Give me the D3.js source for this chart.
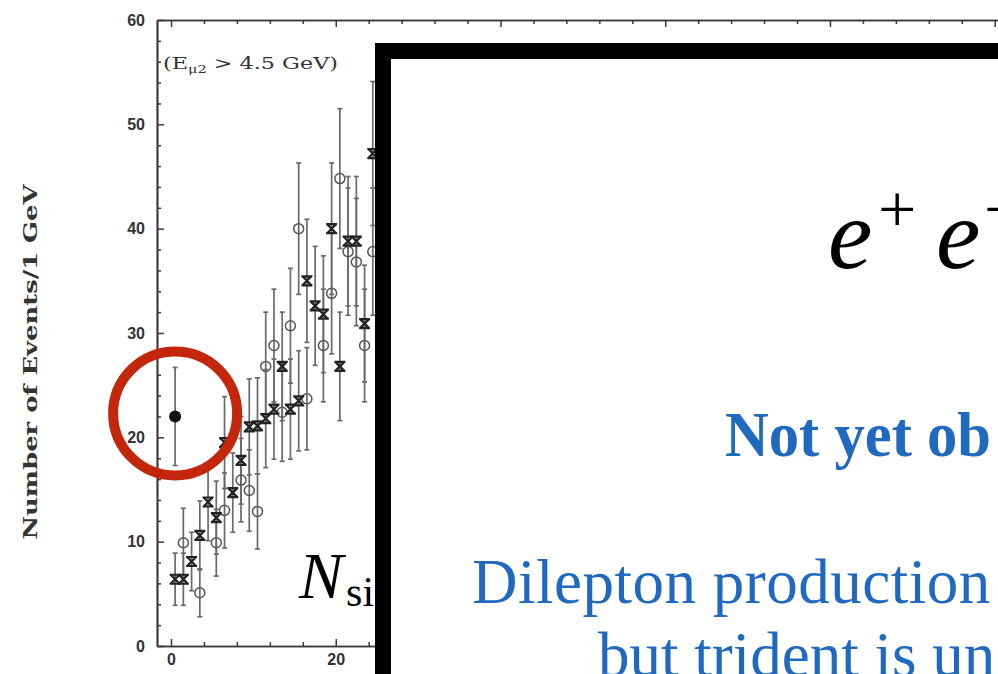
<!DOCTYPE html>
<html>
<head>
<meta charset="UTF-8">
<title></title>
<script src="https://d3js.org/d3.v7.min.js"></script>
<style>
  body { margin: 0; background: #fff; overflow: hidden; }
</style>
</head>
<body>
<div id="chart"></div>
<script>
// data (bins of 1 GeV)
var crossX = [0.5,1.5,2.5,3.5,4.5,5.5,6.5,7.5,8.5,9.5,10.5,11.5,12.5,13.5,14.5,15.5,16.5,17.5,18.5,19.5,20.5,21.5,22.5,23.5,24.5];
var crossY = [6.4,6.4,8.1,10.6,13.8,12.3,19.5,14.7,17.8,21.0,21.1,21.8,22.7,26.8,22.7,23.5,35.0,32.6,31.8,40.0,26.8,38.8,38.8,30.9,47.2];
var crossErr = [2.5,2.5,2.8,3.3,3.7,3.5,4.4,3.8,4.2,4.6,4.6,4.7,4.8,5.2,4.8,4.8,5.9,5.7,5.6,6.3,5.2,6.2,6.2,5.6,6.9];

var circX = [1.5,3.5,5.5,6.5,8.5,9.5,10.5,11.5,12.5,13.5,14.5,15.5,16.5,18.5,19.5,20.5,21.5,22.5,23.5,24.5];
var circY = [9.9,5.1,9.9,13.0,15.9,14.9,12.9,26.8,28.8,22.4,30.7,40.0,23.7,28.8,33.8,44.8,37.8,36.8,28.8,37.8];
var circErr = [3.3,2.3,3.2,3.6,4.0,3.9,3.6,5.2,5.4,4.7,5.5,6.3,4.9,5.4,5.8,6.7,6.1,6.1,5.4,6.1];

var dotX = [0.5];
var dotY = [22];
var dotErr = [4.7];

var yTicks = [0,10,20,30,40,50,60];
var yMinor = [2,4,6,8,12,14,16,18,22,24,26,28,32,34,36,38,42,44,46,48,52,54,56,58];
var xLabels = [0,20];
var xTicks = [0,20,40,60,80,100];
var xMinor = [4,8,12,16,24,28,32,36,44,48,52,56,64,68,72,76,84,88,92,96];

var width = 998, height = 674;

var svg = d3.select("#chart").append("svg")
  .attr("width", width)
  .attr("height", height)
  .style("font-family", "'Liberation Sans', Arial, sans-serif");

var x = d3.scaleLinear().domain([-1.7, 100.4]).range([157, 998]);
var y = d3.scaleLinear().domain([0, 60]).range([646, 20]);

var ink = "#3a3a3a";

// axes (ticks point inward like the original)
function styleAxis(g) {
  g.selectAll("path.domain").attr("stroke", ink).attr("stroke-width", 1.7);
  g.selectAll(".tick line").attr("stroke", ink).attr("stroke-width", 1.5);
  g.selectAll(".tick text").attr("fill", "#333").attr("font-size", 16).attr("font-weight", "bold");
}

svg.append("g")
  .attr("transform", "translate(157,0)")
  .call(d3.axisLeft(y).tickValues(yTicks).tickSizeInner(-7).tickSizeOuter(0).tickPadding(12))
  .call(styleAxis);
svg.append("g")
  .attr("transform", "translate(157,0)")
  .call(d3.axisLeft(y).tickValues(yMinor).tickSizeInner(-4).tickSizeOuter(0).tickFormat(""))
  .call(styleAxis);

svg.append("g")
  .attr("transform", "translate(0,646)")
  .call(d3.axisBottom(x).tickValues(xTicks).tickSizeInner(-7).tickSizeOuter(0).tickFormat(""))
  .call(styleAxis);
svg.append("g")
  .attr("transform", "translate(0,646)")
  .call(d3.axisBottom(x).tickValues(xLabels).tickSize(0).tickPadding(8))
  .call(styleAxis)
  .select("path.domain").remove();
svg.append("g")
  .attr("transform", "translate(0,646)")
  .call(d3.axisBottom(x).tickValues(xMinor).tickSizeInner(-4).tickSizeOuter(0).tickFormat(""))
  .call(styleAxis);

svg.append("g")
  .attr("transform", "translate(0,20)")
  .call(d3.axisTop(x).tickValues(xTicks).tickSizeInner(-7).tickSizeOuter(0).tickFormat(""))
  .call(styleAxis);
svg.append("g")
  .attr("transform", "translate(0,20)")
  .call(d3.axisTop(x).tickValues(xMinor).tickSizeInner(-4).tickSizeOuter(0).tickFormat(""))
  .call(styleAxis);

// y axis title
svg.append("text")
  .attr("transform", "translate(37,362) rotate(-90)")
  .attr("text-anchor", "middle")
  .attr("font-family", "'DejaVu Serif', serif")
  .attr("font-weight", "bold")
  .attr("font-size", 19)
  .attr("fill", "#333")
  .attr("textLength", 355)
  .attr("lengthAdjust", "spacingAndGlyphs")
  .text("Number of Events/1 GeV");

// cut label
var cut = svg.append("text")
  .attr("x", 163).attr("y", 69)
  .attr("font-family", "'DejaVu Serif', serif")
  .attr("font-size", 17)
  .attr("fill", "#333")
  .attr("textLength", 175)
  .attr("lengthAdjust", "spacingAndGlyphs");
cut.append("tspan").text("(E");
cut.append("tspan").attr("font-size", 11).attr("dy", 4).text("\u03bc2");
cut.append("tspan").attr("dy", -4).text(" > 4.5 GeV)");

// error bars
function errBars(xs, ys, es) {
  var rows = xs.map(function(v, i) { return { x: v, y: ys[i], e: es[i] }; });
  var g = svg.append("g").attr("stroke", "#6a6a6a").attr("stroke-width", 1.7);
  g.selectAll("line.bar").data(rows).enter().append("line")
    .attr("x1", function(d) { return x(d.x); })
    .attr("x2", function(d) { return x(d.x); })
    .attr("y1", function(d) { return y(d.y - d.e); })
    .attr("y2", function(d) { return y(d.y + d.e); });
  [-1, 1].forEach(function(s) {
    g.selectAll("line.cap" + s).data(rows).enter().append("line")
      .attr("x1", function(d) { return x(d.x) - 2.5; })
      .attr("x2", function(d) { return x(d.x) + 2.5; })
      .attr("y1", function(d) { return y(d.y + s * d.e); })
      .attr("y2", function(d) { return y(d.y + s * d.e); });
  });
  return rows;
}

var circRows = errBars(circX, circY, circErr);
var crossRows = errBars(crossX, crossY, crossErr);
var dotRows = errBars(dotX, dotY, dotErr);

svg.append("g").selectAll("circle").data(circRows).enter().append("circle")
  .attr("cx", function(d) { return x(d.x); })
  .attr("cy", function(d) { return y(d.y); })
  .attr("r", 5)
  .attr("fill", "none")
  .attr("stroke", "#555")
  .attr("stroke-width", 1.5);

// hourglass-like cross marker
var crossPath = "M-5.5,-4.5L5.5,-4.5M-5.5,4.5L5.5,4.5M-4.5,-4.5L4.5,4.5M4.5,-4.5L-4.5,4.5";
svg.append("g").selectAll("path").data(crossRows).enter().append("path")
  .attr("transform", function(d) { return "translate(" + x(d.x) + "," + y(d.y) + ")"; })
  .attr("d", crossPath)
  .attr("fill", "none")
  .attr("stroke", "#222")
  .attr("stroke-width", 2.2);

svg.append("g").selectAll("circle").data(dotRows).enter().append("circle")
  .attr("cx", function(d) { return x(d.x); })
  .attr("cy", function(d) { return y(d.y); })
  .attr("r", 6)
  .attr("fill", "#111");

// red highlight ring around the filled point
svg.append("circle")
  .attr("cx", x(dotX[0]))
  .attr("cy", y(dotY[0]) - 3)
  .attr("r", 62)
  .attr("fill", "none")
  .attr("stroke", "#c4260c")
  .attr("stroke-width", 10);

// N_si (partly hidden by the box)
var ns = svg.append("text")
  .attr("x", 299).attr("y", 598)
  .attr("font-family", "'Liberation Serif', serif")
  .attr("fill", "#000");
ns.append("tspan").attr("font-size", 66).attr("font-style", "italic").text("N");
ns.append("tspan").attr("font-size", 42).attr("dy", 8).attr("dx", 3).text("si");

// overlay box
svg.append("rect")
  .attr("x", 383).attr("y", 51)
  .attr("width", 800).attr("height", 800)
  .attr("fill", "#fff")
  .attr("stroke", "#000")
  .attr("stroke-width", 16);

var serif = "'Liberation Serif', serif";
svg.append("text").attr("x", 828).attr("y", 268)
  .attr("font-family", serif).attr("font-style", "italic").attr("font-size", 100).text("e");
svg.append("text").attr("x", 878).attr("y", 232)
  .attr("font-family", serif).attr("font-size", 68).text("+");
svg.append("text").attr("x", 936).attr("y", 268)
  .attr("font-family", serif).attr("font-style", "italic").attr("font-size", 100).text("e");
svg.append("text").attr("x", 984).attr("y", 232)
  .attr("font-family", serif).attr("font-size", 68).text("\u2212");

var blue = "#1f69c1";
svg.append("text").attr("x", 725).attr("y", 456)
  .attr("font-family", serif).attr("font-weight", "bold").attr("font-size", 63)
  .attr("textLength", 266)
  .attr("lengthAdjust", "spacingAndGlyphs")
  .attr("fill", blue).text("Not yet ob");
svg.append("text").attr("x", 472).attr("y", 603)
  .attr("font-family", serif).attr("font-size", 63)
  .attr("letter-spacing", 0.5)
  .attr("fill", blue).text("Dilepton production");
svg.append("text").attr("x", 598).attr("y", 676)
  .attr("font-family", serif).attr("font-size", 63)
  .attr("fill", blue).text("but trident is un");
</script>
</body>
</html>
